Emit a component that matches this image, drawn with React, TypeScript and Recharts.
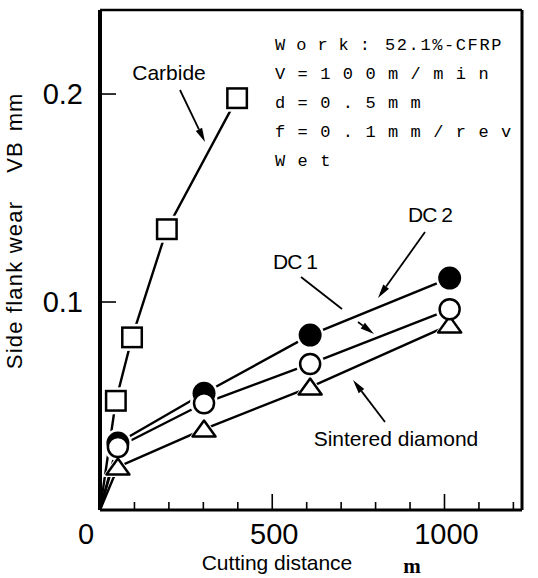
import { LineChart, Line, XAxis, YAxis, ReferenceLine } from 'recharts';

// cutting distance (m) and side flank wear VB (mm)
const distCarbide = [0, 46, 93, 194, 398];
const wearCarbide = [0, 0.0525, 0.083, 0.135, 0.198];

const distDiamond = [0, 52, 302, 610, 1015];
const wearDC2 = [0, 0.0322, 0.0561, 0.0841, 0.1115];
const wearDC1 = [0, 0.0303, 0.0513, 0.0702, 0.0965];
const wearSintered = [0, 0.0207, 0.0389, 0.0591, 0.089];

const xTicks = [0, 100, 200, 300, 400, 500, 600, 700, 800, 900, 1000, 1100, 1200];
const xLabelTicks = [0, 500, 1000];
const yTicks = [0.1, 0.2];

const conditions = [
    ['Work:', '52.1%-CFRP'],
    ['V=100m/min', ''],
    ['d=0.5mm', ''],
    ['f=0.1mm/rev', ''],
    ['Wet', ''],
];

const toPoints = (xs: number[], ys: number[]) => xs.map((x, i) => ({ x, y: ys[i] }));

const carbide = toPoints(distCarbide, wearCarbide);
const dc2 = toPoints(distDiamond, wearDC2);
const dc1 = toPoints(distDiamond, wearDC1);
const sintered = toPoints(distDiamond, wearSintered);

const W = 538;
const H = 578;
const SANS = '"Liberation Sans", Arial, sans-serif';

const skip = (p: any) => !p.payload || p.payload.x === 0;

// white halos to cut the lines near markers
const Halo = (shape: string) => (p: any) => {
    if (skip(p)) return <g key={p.key} />;
    const { cx, cy } = p;
    if (shape === 'square') return <rect key={p.key} x={cx - 13.5} y={cy - 13.5} width={27} height={27} fill="#fff" />;
    if (shape === 'triangle')
        return <polygon key={p.key} points={`${cx},${cy - 13} ${cx - 15.5},${cy + 10} ${cx + 15.5},${cy + 10}`} fill="#fff" />;
    return <circle key={p.key} cx={cx} cy={cy} r={14} fill="#fff" />;
};

const Marker = (shape: string) => (p: any) => {
    if (skip(p)) return <g key={p.key} />;
    const { cx, cy } = p;
    if (shape === 'square')
        return <rect key={p.key} x={cx - 9.75} y={cy - 9.75} width={19.5} height={19.5} fill="#fff" stroke="#000" strokeWidth={2.5} />;
    if (shape === 'triangle')
        return (
            <polygon key={p.key} points={`${cx},${cy - 8.5} ${cx - 11.5},${cy + 7.5} ${cx + 11.5},${cy + 7.5}`}
                fill="#fff" stroke="#000" strokeWidth={2.5} strokeLinejoin="round" />
        );
    if (shape === 'filled') return <circle key={p.key} cx={cx} cy={cy} r={11.5} fill="#000" />;
    return <circle key={p.key} cx={cx} cy={cy} r={10} fill="#fff" stroke="#000" strokeWidth={2.5} />;
};

const XTick = ({ x, y, payload }: any) => {
    const v = payload.value;
    const major = v % 500 === 0;
    return (
        <g>
            {v !== 0 && <line x1={x} y1={y} x2={x} y2={y - (major ? 16 : 8)} stroke="#000" strokeWidth={1.6} />}
            {xLabelTicks.includes(v) && (
                <text x={x + (v === 0 ? -14 : 2)} y={y + 34} textAnchor="middle" fontFamily={SANS} fontSize={29} fill="#000">
                    {v}
                </text>
            )}
        </g>
    );
};

const YTick = ({ x, y, payload }: any) => (
    <g>
        <line x1={x} y1={y} x2={x + 16} y2={y} stroke="#000" strokeWidth={1.6} />
        <text x={x - 17} y={y + 10} textAnchor="end" fontFamily={SANS} fontSize={29} fill="#000">
            {payload.value.toFixed(1)}
        </text>
    </g>
);

const Arrow = ({ x1, y1, x2, y2, head = true }: any) => {
    const a = Math.atan2(y2 - y1, x2 - x1);
    const len = 14;
    const w = 3.5;
    const bx = x2 - len * Math.cos(a);
    const by = y2 - len * Math.sin(a);
    const px = -Math.sin(a) * w;
    const py = Math.cos(a) * w;
    return (
        <g>
            <line x1={x1} y1={y1} x2={head ? bx : x2} y2={head ? by : y2} stroke="#000" strokeWidth={1.8} />
            {head && <polygon points={`${x2},${y2} ${bx + px},${by + py} ${bx - px},${by - py}`} fill="#000" />}
        </g>
    );
};

const series = [
    { key: 'carbide', data: carbide, shape: 'square' },
    { key: 'sintered', data: sintered, shape: 'triangle' },
    { key: 'dc2', data: dc2, shape: 'filled' },
    { key: 'dc1', data: dc1, shape: 'open' },
];

export default function App() {
    return (
        <div style={{ position: 'absolute', left: 0, top: 0, width: W, height: H, background: '#fff' }}>
            <LineChart width={W} height={H} margin={{ top: 10, right: 16, bottom: 0, left: 0 }}>
                <XAxis
                    type="number"
                    dataKey="x"
                    domain={[0, 1225]}
                    ticks={xTicks}
                    interval={0}
                    height={68}
                    tickSize={0}
                    tickMargin={0}
                    tick={<XTick />}
                    axisLine={{ stroke: '#000', strokeWidth: 3 }}
                    allowDataOverflow
                />
                <YAxis
                    type="number"
                    dataKey="y"
                    domain={[0, 0.2404]}
                    ticks={yTicks}
                    width={100}
                    tickSize={0}
                    tickMargin={0}
                    tick={<YTick />}
                    axisLine={{ stroke: '#000', strokeWidth: 4 }}
                    allowDataOverflow
                />
                <ReferenceLine y={0.2404} stroke="#000" strokeWidth={2.5} />
                <ReferenceLine x={1225} stroke="#000" strokeWidth={3} />
                {series.map((s) => (
                    <Line key={s.key + '-line'} data={s.data} dataKey="y" stroke="#000" strokeWidth={2.4}
                        dot={false} activeDot={false} isAnimationActive={false} />
                ))}
                {series.map((s) => (
                    <Line key={s.key + '-halo'} data={s.data} dataKey="y" stroke="none" strokeWidth={0}
                        dot={Halo(s.shape)} activeDot={false} isAnimationActive={false} />
                ))}
                {series.map((s) => (
                    <Line key={s.key + '-mark'} data={s.data} dataKey="y" stroke="none" strokeWidth={0}
                        dot={Marker(s.shape)} activeDot={false} isAnimationActive={false} />
                ))}
            </LineChart>
            <svg width={W} height={H} style={{ position: 'absolute', left: 0, top: 0, pointerEvents: 'none' }}>
                {/* axis titles */}
                <text x={277} y={570} textAnchor="middle" fontFamily={SANS} fontSize={21}>Cutting distance</text>
                <text x={412} y={573} textAnchor="middle" fontFamily='"Liberation Serif", serif' fontWeight="bold" fontSize={21}>m</text>
                <g fontFamily={SANS} fontSize={22} textAnchor="middle">
                    <text x={14} y={285} transform="rotate(-90 14 285)" dominantBaseline="central" letterSpacing={1.2}>Side flank wear</text>
                    <text x={14} y={157} transform="rotate(-90 14 157)" dominantBaseline="central" letterSpacing={1}>VB</text>
                    <text x={14} y={112} transform="rotate(-90 14 112)" dominantBaseline="central" letterSpacing={1}>mm</text>
                </g>

                {/* test conditions */}
                <g fontFamily='"Liberation Mono", monospace' fontSize={17}>
                    {conditions.map(([a, b], i) => (
                        <text key={i} x={275} y={50 + i * 29}>
                            <tspan letterSpacing={i === 0 ? 11 : 12.4}>{a}</tspan>
                            {b && <tspan x={385} letterSpacing={1.6}>{b}</tspan>}
                        </text>
                    ))}
                </g>

                {/* annotations */}
                <g fontFamily={SANS} fontSize={21} textAnchor="middle">
                    <text x={169} y={80}>Carbide</text>
                    <text x={430} y={222} letterSpacing={-1}>DC 2</text>
                    <text x={295} y={269} letterSpacing={-1}>DC 1</text>
                    <text x={396} y={446}>Sintered diamond</text>
                </g>
                <Arrow x1={180} y1={90} x2={205} y2={142} />
                <Arrow x1={425} y1={232} x2={378} y2={298} />
                <Arrow x1={301} y1={277} x2={342} y2={309} head={false} />
                <Arrow x1={358} y1={322} x2={374} y2={334} />
                <Arrow x1={385} y1={422} x2={353} y2={380} />
            </svg>
        </div>
    );
}
